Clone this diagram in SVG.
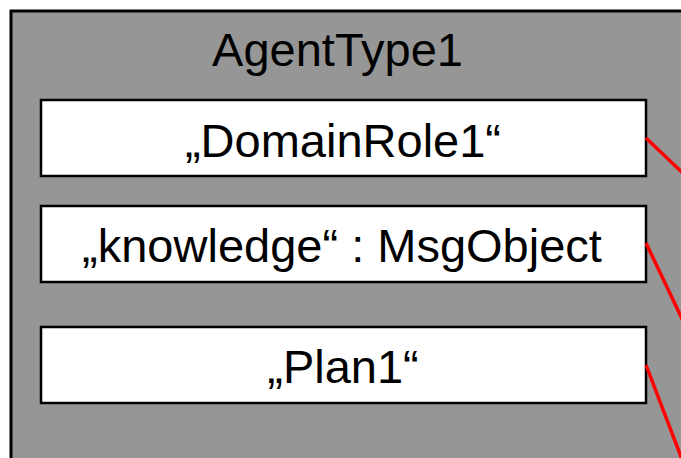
<svg xmlns="http://www.w3.org/2000/svg" width="681" height="458" viewBox="0 0 681 458">
  <style>
    .agent { fill: #969696; stroke: #000; stroke-width: 3; }
    .part { fill: #fff; stroke: #000; stroke-width: 2.5; }
    .label { font-family: "Liberation Sans", Arial, sans-serif; font-size: 47px; fill: #000; text-anchor: middle; }
    .link { stroke: #ff0000; stroke-width: 3.5; fill: none; }
  </style>
  <g id="agent-type-1">
    <rect class="agent" x="11" y="11" width="720" height="500"/>
    <text class="label" x="337.5" y="66">AgentType1</text>
  </g>
  <g id="domain-role-1">
    <rect class="part" x="41" y="100" width="605" height="76"/>
    <text class="label" x="343" y="157">„DomainRole1“</text>
  </g>
  <g id="knowledge">
    <rect class="part" x="41" y="206" width="605" height="76"/>
    <text class="label" x="342" y="262">„knowledge“ : MsgObject</text>
  </g>
  <g id="plan-1">
    <rect class="part" x="41" y="327" width="605" height="76"/>
    <text class="label" x="343" y="383">„Plan1“</text>
  </g>
  <g id="connectors">
    <line class="link" x1="646" y1="138" x2="690" y2="180"/>
    <line class="link" x1="646" y1="243" x2="685" y2="325"/>
    <line class="link" x1="646" y1="365" x2="683" y2="462"/>
  </g>
</svg>
